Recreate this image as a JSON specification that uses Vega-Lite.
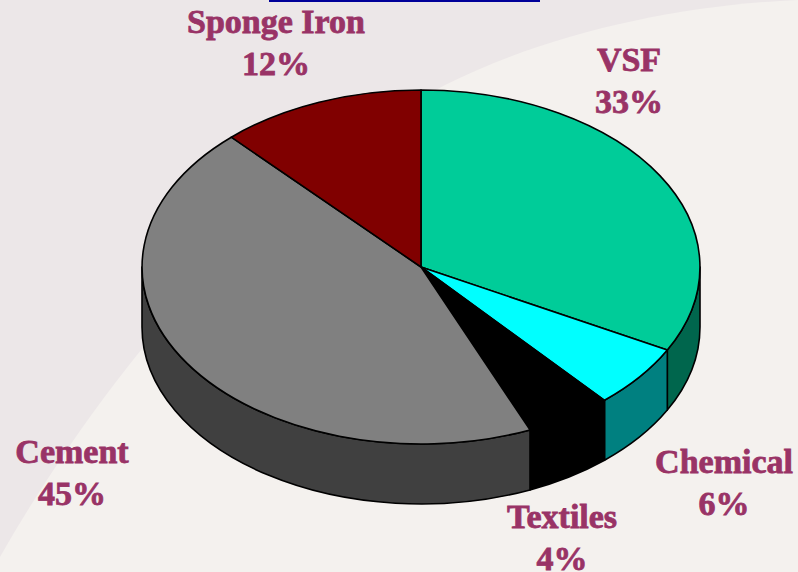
{
  "$schema": "https://vega.github.io/schema/vega-lite/v6.json",
  "width": 798, "height": 572, "padding": 0, "autosize": "none",
  "background": "#ece7e8",
  "config": {"view": {"stroke": null}},
  "datasets": {
    "pieces": [
      {"piece": "VSF side", "slice": "VSF", "share": 33},
      {"piece": "Chemical side", "slice": "Chemical", "share": 6},
      {"piece": "Textiles side", "slice": "Textiles", "share": 4},
      {"piece": "Cement side", "slice": "Cement", "share": 45},
      {"piece": "VSF top", "slice": "VSF", "share": 33},
      {"piece": "Chemical top", "slice": "Chemical", "share": 6},
      {"piece": "Textiles top", "slice": "Textiles", "share": 4},
      {"piece": "Cement top", "slice": "Cement", "share": 45},
      {"piece": "Sponge Iron top", "slice": "Sponge Iron", "share": 12}
    ],
    "labels": [
      {"label": "Sponge Iron\n12%", "lx": -145, "ly": -234},
      {"label": "VSF\n33%", "lx": 208, "ly": -196},
      {"label": "Chemical\n6%", "lx": 303, "ly": 206},
      {"label": "Textiles\n4%", "lx": 141, "ly": 261},
      {"label": "Cement\n45%", "lx": -349, "ly": 196}
    ]
  },
  "layer": [
    {
      "data": {"values": [{"part": "backdrop"}]},
      "mark": {"type": "point", "filled": true, "opacity": 1, "size": 4, "clip": true, "color": "#f4f1ee",
        "shape": "M-421,290 C-330,130 -170,-80 24,-182 C130,-235 260,-262 377,-267 L377,305 L-421,305 Z"},
      "encoding": {
        "x": {"datum": 0, "type": "quantitative", "scale": {"domain": [-421, 377]}, "axis": null},
        "y": {"datum": 0, "type": "quantitative", "scale": {"domain": [305, -267]}, "axis": null}
      }
    },
    {
      "data": {"values": [{"part": "title underline"}]},
      "mark": {"type": "rule", "color": "#000099", "strokeWidth": 4},
      "encoding": {
        "x": {"datum": -152, "type": "quantitative", "scale": {"domain": [-421, 377]}, "axis": null},
        "x2": {"datum": 119},
        "y": {"datum": -267, "type": "quantitative", "scale": {"domain": [305, -267]}, "axis": null}
      }
    },
    {
      "data": {"name": "pieces"},
      "mark": {"type": "point", "filled": true, "opacity": 1, "size": 4, "stroke": "#000000", "strokeWidth": 1.6, "strokeJoin": "round"},
      "encoding": {
        "x": {"datum": 0, "type": "quantitative", "scale": {"domain": [-421, 377]}, "axis": null},
        "y": {"datum": 0, "type": "quantitative", "scale": {"domain": [305, -267]}, "axis": null},
        "shape": {
          "field": "piece", "type": "nominal", "legend": null,
          "scale": {
            "domain": ["VSF side", "Chemical side", "Textiles side", "Cement side", "VSF top", "Chemical top", "Textiles top", "Cement top", "Sponge Iron top"],
            "range": [
              "M279,0 A279,177 0 0 1 246.3,83.1 L246.3,143.1 A279,177 0 0 0 279,60 Z",
              "M246.3,83.1 A279,177 0 0 1 183.5,133.3 L183.5,193.3 A279,177 0 0 0 246.3,143.1 Z",
              "M183.5,133.3 A279,177 0 0 1 109,162.9 L109,222.9 A279,177 0 0 0 183.5,193.3 Z",
              "M109,162.9 A279,177 0 0 1 -279,0 L-279,60 A279,177 0 0 0 109,222.9 Z",
              "M0,0 L0,-177 A279,177 0 0 1 246.3,83.1 Z",
              "M0,0 L246.3,83.1 A279,177 0 0 1 183.5,133.3 Z",
              "M0,0 L183.5,133.3 A279,177 0 0 1 109,162.9 Z",
              "M0,0 L109,162.9 A279,177 0 0 1 -189.7,-129.8 Z",
              "M0,0 L-189.7,-129.8 A279,177 0 0 1 0,-177 Z"
            ]
          }
        },
        "fill": {
          "field": "piece", "type": "nominal", "legend": null,
          "scale": {
            "domain": ["VSF side", "Chemical side", "Textiles side", "Cement side", "VSF top", "Chemical top", "Textiles top", "Cement top", "Sponge Iron top"],
            "range": ["#00664d", "#008080", "#000000", "#404040", "#00cc99", "#00ffff", "#000000", "#808080", "#800000"]
          }
        }
      }
    },
    {
      "data": {"name": "labels"},
      "mark": {"type": "text", "font": "Liberation Serif", "fontWeight": "bold", "fontSize": 34, "color": "#993366", "stroke": "#993366", "strokeWidth": 0.8, "align": "center", "baseline": "alphabetic", "lineBreak": "\n", "lineHeight": 42},
      "encoding": {
        "x": {"field": "lx", "type": "quantitative", "scale": {"domain": [-421, 377]}, "axis": null},
        "y": {"field": "ly", "type": "quantitative", "scale": {"domain": [305, -267]}, "axis": null},
        "text": {"field": "label", "type": "nominal"}
      }
    }
  ]
}
